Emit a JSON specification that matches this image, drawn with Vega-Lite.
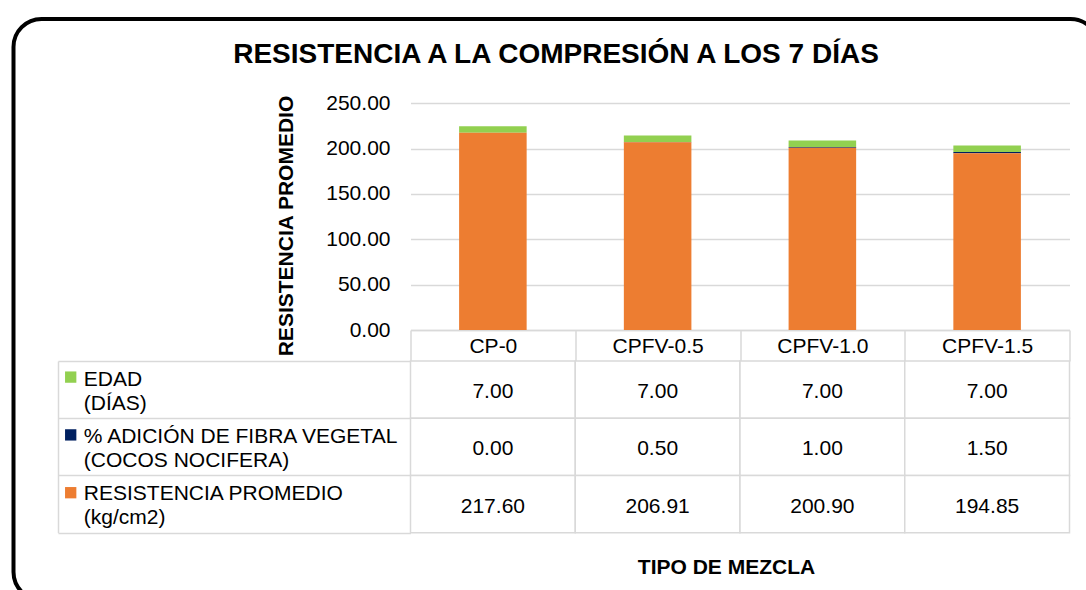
{
  "$schema": "https://vega.github.io/schema/vega-lite/v6.json",
  "autosize": {"type": "none"},
  "padding": {"left": 13.5, "top": 19, "right": 0, "bottom": 0},
  "width": 1085,
  "height": 581,
  "view": {"stroke": "#000000", "strokeWidth": 4, "cornerRadius": 28, "fill": "#ffffff"},
  "title": {
    "text": "RESISTENCIA A LA COMPRESIÓN A LOS 7 DÍAS",
    "orient": "top",
    "anchor": "middle",
    "frame": "group",
    "font": "Liberation Sans",
    "fontSize": 28,
    "fontWeight": "bold",
    "color": "#000000",
    "baseline": "alphabetic",
    "offset": -82.9
  },
  "datasets": {
    "d": [
      {"mezcla": "CP-0", "serie": "EDAD\n(DÍAS)", "orden": 3, "valor": 7.00},
      {"mezcla": "CPFV-0.5", "serie": "EDAD\n(DÍAS)", "orden": 3, "valor": 7.00},
      {"mezcla": "CPFV-1.0", "serie": "EDAD\n(DÍAS)", "orden": 3, "valor": 7.00},
      {"mezcla": "CPFV-1.5", "serie": "EDAD\n(DÍAS)", "orden": 3, "valor": 7.00},
      {"mezcla": "CP-0", "serie": "% ADICIÓN DE FIBRA VEGETAL\n(COCOS NOCIFERA)", "orden": 2, "valor": 0.00},
      {"mezcla": "CPFV-0.5", "serie": "% ADICIÓN DE FIBRA VEGETAL\n(COCOS NOCIFERA)", "orden": 2, "valor": 0.50},
      {"mezcla": "CPFV-1.0", "serie": "% ADICIÓN DE FIBRA VEGETAL\n(COCOS NOCIFERA)", "orden": 2, "valor": 1.00},
      {"mezcla": "CPFV-1.5", "serie": "% ADICIÓN DE FIBRA VEGETAL\n(COCOS NOCIFERA)", "orden": 2, "valor": 1.50},
      {"mezcla": "CP-0", "serie": "RESISTENCIA PROMEDIO\n(kg/cm2)", "orden": 1, "valor": 217.60},
      {"mezcla": "CPFV-0.5", "serie": "RESISTENCIA PROMEDIO\n(kg/cm2)", "orden": 1, "valor": 206.91},
      {"mezcla": "CPFV-1.0", "serie": "RESISTENCIA PROMEDIO\n(kg/cm2)", "orden": 1, "valor": 200.90},
      {"mezcla": "CPFV-1.5", "serie": "RESISTENCIA PROMEDIO\n(kg/cm2)", "orden": 1, "valor": 194.85}
    ]
  },
  "data": {"name": "d"},
  "resolve": {
    "scale": {"y": "independent"},
    "axis": {"y": "independent", "x": "independent"}
  },
  "layer": [
    {
      "mark": {"type": "bar", "width": {"band": 0.41}},
      "encoding": {
        "x": {
          "field": "mezcla",
          "type": "nominal",
          "sort": ["CP-0", "CPFV-0.5", "CPFV-1.0", "CPFV-1.5"],
          "scale": {"range": [397, 1056], "paddingInner": 0, "paddingOuter": 0},
          "axis": {
            "orient": "bottom",
            "offset": -270,
            "title": "TIPO DE MEZCLA",
            "titleFontSize": 21,
            "titleFontWeight": "bold",
            "titleColor": "#000000",
            "titleX": 712.5,
            "titleY": 243.3,
            "titleAlign": "center",
            "titleBaseline": "alphabetic",
            "labelAngle": 0,
            "labelFontSize": 21,
            "labelColor": "#000000",
            "labelBaseline": "top",
            "labelPadding": -25.7,
            "tickBand": "extent",
            "ticks": true,
            "tickSize": 31,
            "tickColor": "#d9d9d9",
            "tickWidth": 1.5,
            "domain": true,
            "domainColor": "#d9d9d9",
            "domainWidth": 1.5,
            "grid": false
          }
        },
        "y": {
          "field": "valor",
          "type": "quantitative",
          "stack": "zero",
          "scale": {"domain": [0, 250], "range": [311, 84.3], "nice": false},
          "axis": {
            "orient": "left",
            "offset": -397,
            "title": "RESISTENCIA PROMEDIO",
            "titleFontSize": 21,
            "titleFontWeight": "bold",
            "titleColor": "#000000",
            "titleAngle": 270,
            "titleX": -118.2,
            "titleY": 206.5,
            "titleAlign": "center",
            "titleBaseline": "alphabetic",
            "values": [0, 50, 100, 150, 200, 250],
            "format": ".2f",
            "labelFontSize": 21,
            "labelColor": "#000000",
            "labelPadding": 20.5,
            "ticks": false,
            "domain": false,
            "grid": true,
            "gridColor": "#d9d9d9",
            "gridWidth": 1.5
          }
        },
        "order": {"field": "orden", "type": "quantitative"},
        "color": {
          "field": "serie",
          "type": "nominal",
          "sort": ["EDAD\n(DÍAS)", "% ADICIÓN DE FIBRA VEGETAL\n(COCOS NOCIFERA)", "RESISTENCIA PROMEDIO\n(kg/cm2)"],
          "scale": {
            "domain": ["EDAD\n(DÍAS)", "% ADICIÓN DE FIBRA VEGETAL\n(COCOS NOCIFERA)", "RESISTENCIA PROMEDIO\n(kg/cm2)"],
            "range": ["#92D050", "#002060", "#ED7D31"]
          },
          "legend": {
            "orient": "none",
            "legendX": 51.2,
            "legendY": 352.1,
            "title": null,
            "padding": 0,
            "symbolType": "square",
            "symbolSize": 128,
            "symbolStrokeWidth": 0,
            "symbolOpacity": 1,
            "labelExpr": "''",
            "labelFontSize": 1,
            "rowPadding": 45.8
          }
        }
      }
    },
    {
      "encoding": {
        "x": {
          "field": "mezcla",
          "type": "nominal",
          "sort": ["CP-0", "CPFV-0.5", "CPFV-1.0", "CPFV-1.5"],
          "axis": null
        },
        "y": {
          "field": "serie",
          "type": "nominal",
          "sort": ["EDAD\n(DÍAS)", "% ADICIÓN DE FIBRA VEGETAL\n(COCOS NOCIFERA)", "RESISTENCIA PROMEDIO\n(kg/cm2)"],
          "scale": {"range": [342, 513.7], "paddingInner": 0, "paddingOuter": 0},
          "axis": {
            "orient": "right",
            "offset": -1040.5,
            "title": null,
            "grid": false,
            "tickBand": "extent",
            "ticks": true,
            "tickSize": 352.5,
            "tickColor": "#d9d9d9",
            "tickWidth": 1.5,
            "domain": true,
            "domainColor": "#d9d9d9",
            "domainWidth": 1.5,
            "labelAlign": "left",
            "labelBaseline": "middle",
            "labelPadding": -327.2,
            "labelOffset": -10.2,
            "labelExpr": "split(datum.label, '\\n')",
            "labelLineHeight": 24,
            "labelFontSize": 21,
            "labelColor": "#000000",
            "labelLimit": 0
          }
        }
      },
      "layer": [
        {
          "mark": {"type": "rect", "fill": "#ffffff", "stroke": "#d9d9d9", "strokeWidth": 1.5}
        },
        {
          "mark": {"type": "text", "fontSize": 21, "color": "#000000", "baseline": "middle", "dy": 2.6},
          "encoding": {
            "text": {"field": "valor", "type": "quantitative", "format": ".2f"}
          }
        }
      ]
    }
  ],
  "config": {
    "font": "Liberation Sans",
    "axis": {"labelFont": "Liberation Sans", "titleFont": "Liberation Sans"},
    "legend": {"labelFont": "Liberation Sans"},
    "title": {"font": "Liberation Sans"}
  }
}
